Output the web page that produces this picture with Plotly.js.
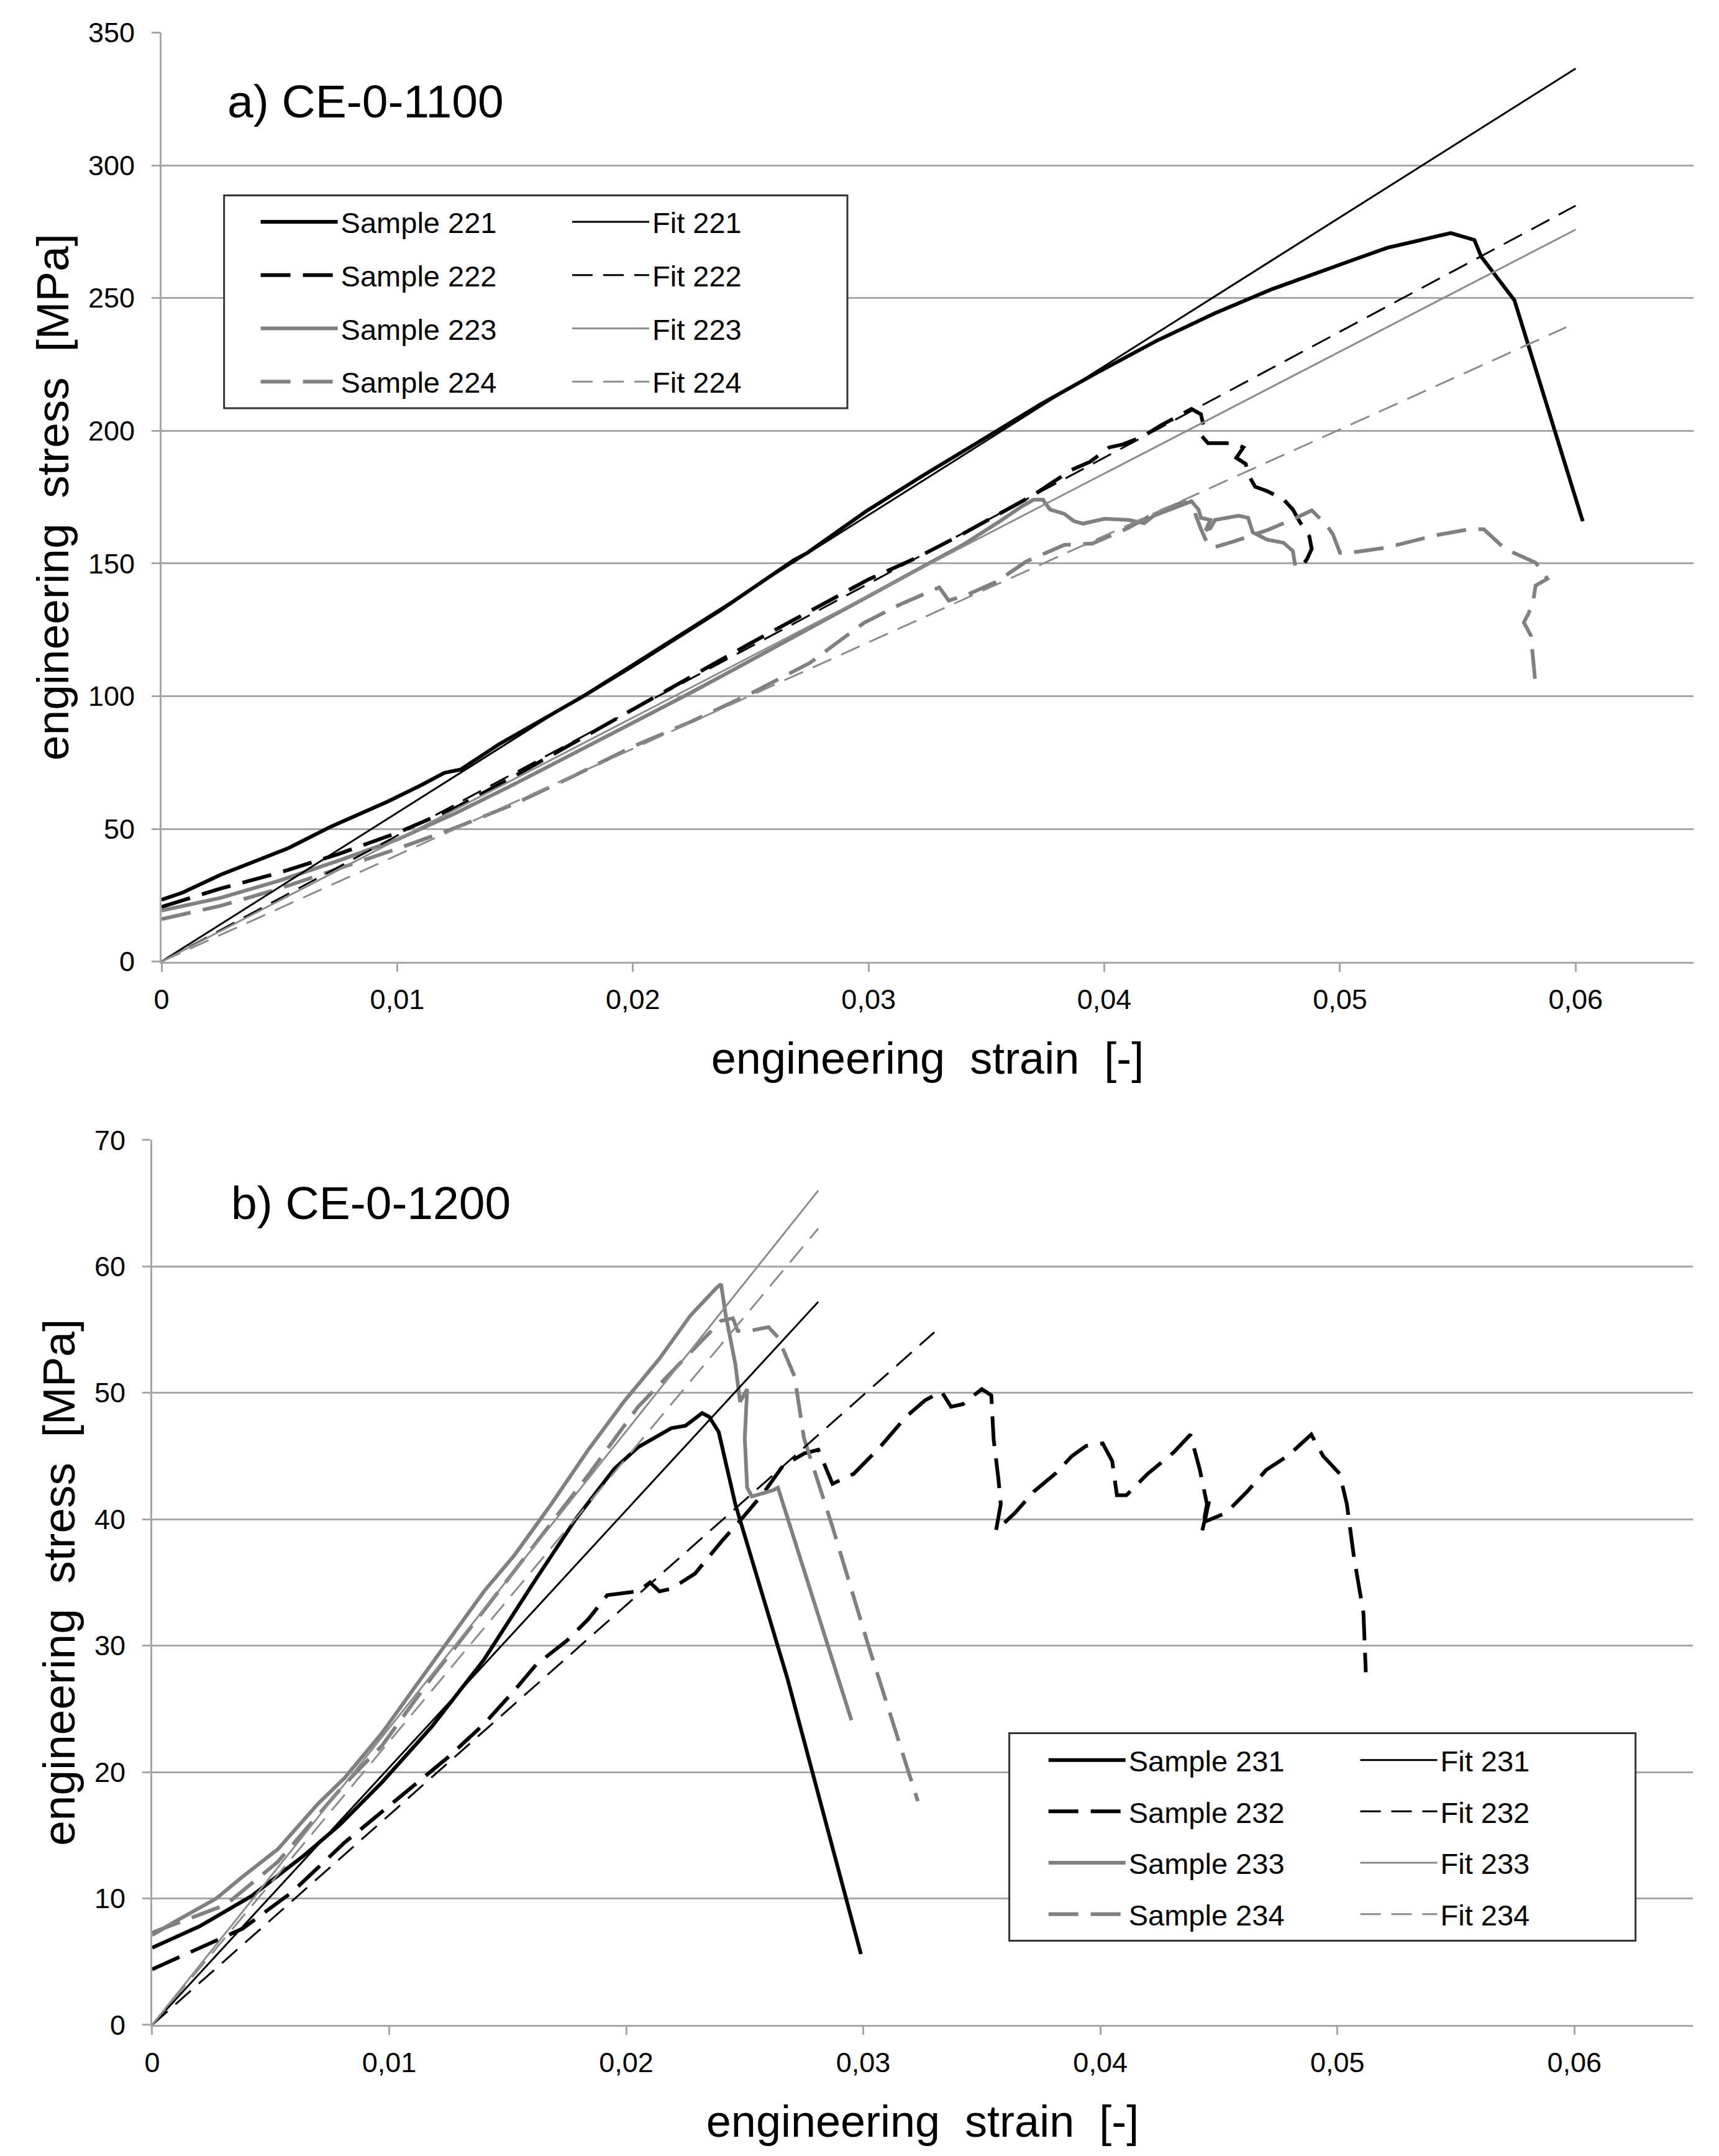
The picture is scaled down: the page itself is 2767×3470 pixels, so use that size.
<!DOCTYPE html>
<html>
<head>
<meta charset="utf-8">
<script src="https://cdn.plot.ly/plotly-3.0.1.min.js"></script>
<style>html,body{margin:0;padding:0;background:#fff;}#chart{width:2767px;height:3470px;}</style>
</head>
<body>
<div id="chart"></div>
<script>
// ---------- Panel a) CE-0-1100 ----------
const s221X = [0,0.0009,0.0025,0.0042,0.0054,0.0072,0.0084,0.0096,0.011,0.012,0.0127,0.0143,0.0167,0.0179,0.02,0.0237,0.0268,0.0274,0.0299,0.0323,0.0348,0.0373,0.0397,0.0422,0.0447,0.0471,0.0506,0.052,0.0547,0.0557,0.056,0.0574,0.0603];
const s221Y = [23.3,26,32.7,38.8,42.8,50.9,55.6,60.3,66.4,71.1,72.4,81.8,93.9,100,111.4,132.3,151.1,154,169.7,183.1,196.5,210,221.9,233.8,244.3,253.3,264.5,268.9,274.5,271.9,265.5,249.2,165.9];

const s222X = [0,0.0025,0.005,0.0075,0.01,0.0125,0.015,0.0175,0.02,0.0225,0.025,0.0275,0.03,0.032,0.0338,0.0354,0.037,0.0378,0.0386,0.0394,0.0402,0.0408,0.0416,0.0424,0.0431,0.0437,0.0441,0.0442,0.0441,0.0444,0.0449,0.0455,0.0459,0.0456,0.046,0.0461,0.0464,0.0469,0.0476,0.048,0.0483,0.0487,0.0488,0.0486,0.0484,0.0486];
const s222Y = [20.6,27.5,33.5,40.5,48.5,58,70,82.5,95,107.5,120,132,144,152,160.2,168,175.8,180.5,185.2,188.3,193.7,194.9,197.7,202,205.5,208.2,206.2,202.3,198.4,195.3,195.3,195.3,193.7,189.8,187.5,183.6,178.9,177.3,174.2,170.3,165.6,160.2,155.5,151.6,149.2,147.3];

const s223X = [0,0.0025,0.005,0.0075,0.01,0.0125,0.015,0.0175,0.02,0.0225,0.025,0.0275,0.03,0.0325,0.034,0.0355,0.0365,0.037,0.0374,0.0375,0.0377,0.0383,0.0387,0.0391,0.04,0.041,0.0417,0.0421,0.0428,0.0434,0.0437,0.044,0.0441,0.0445,0.0443,0.0445,0.0447,0.0457,0.0461,0.0463,0.0465,0.0469,0.0476,0.048,0.0481];
const s223Y = [19.2,24,30.5,38,46,56,67,78.5,90,101.5,113.5,125.5,137.5,149.5,157,165.5,171.5,174,174,172.7,170.3,168.7,166,165,166.8,166.4,165.2,168,170.3,172.3,173.4,170.3,167.2,166.4,162.5,163.3,166.4,168,167.2,161.7,160.9,159,157.8,154.7,149.2];

const s224X = [0,0.0025,0.005,0.0075,0.01,0.0125,0.015,0.0175,0.02,0.0225,0.025,0.0275,0.0298,0.0313,0.033,0.0334,0.0342,0.0354,0.0367,0.0383,0.0395,0.0402,0.041,0.0421,0.0434,0.0438,0.0441,0.0444,0.0447,0.0455,0.0464,0.0469,0.0481,0.0488,0.0494,0.0497,0.05,0.0504,0.052,0.054,0.0555,0.0561,0.057,0.0583,0.0588,0.0583,0.0582,0.058,0.0578,0.0581,0.0583];
const s224Y = [16,21,27.5,35,42.5,50.5,59.5,70,81,90.5,101,112.5,127.6,134.4,141,136,138.3,143,150.8,157,157.5,160.2,163.3,168.7,173.4,170,163,157,156.2,158.3,161,162.5,167,170,164.8,161,154,154,156,160.5,162.9,162.9,155.5,150.3,144.2,141.7,136,131.1,127.8,122.8,104];

const f221X = [0,0.06],   f221Y = [0,336.5];
const f222X = [0,0.06],   f222Y = [0,284.8];
const f223X = [0,0.06],   f223Y = [0,275.8];
const f224X = [0,0.0596], f224Y = [0,239];

// ---------- Panel b) CE-0-1200 ----------
const s231X = [0,0.002,0.0042,0.0064,0.0079,0.0097,0.0118,0.014,0.0162,0.0179,0.0195,0.0205,0.0219,0.0225,0.0232,0.0235,0.0239,0.0241,0.0246,0.0268,0.0299];
const s231Y = [6.1,7.8,10.2,13.4,15.8,19.2,23.6,28.9,35.3,40.1,44,45.7,47.2,47.4,48.4,48.1,46.9,45.3,41.2,27.4,5.6];

const s232X = [0,0.002,0.0038,0.0059,0.0081,0.0103,0.0125,0.014,0.0153,0.0162,0.0175,0.0184,0.0192,0.0205,0.021,0.0214,0.0219,0.0229,0.024,0.0249,0.0258,0.0266,0.0275,0.0281,0.0284,0.0287,0.0296,0.0307,0.0318,0.0326,0.0333,0.0337,0.0342,0.035,0.0354,0.0355,0.0357,0.0358,0.0356,0.0364,0.0372,0.0381,0.0388,0.0394,0.0401,0.0405,0.0407,0.0411,0.042,0.0431,0.0438,0.0442,0.0445,0.0443,0.0446,0.0444,0.0453,0.0462,0.047,0.0479,0.0489,0.0494,0.0501,0.0504,0.0507,0.0511,0.0512];
const s232Y = [4.4,6.1,7.6,10.5,14.4,17.8,21.2,23.8,26.5,28.5,30.4,32.1,34,34.3,35,34.3,34.5,35.7,38.2,40.1,42.1,44.2,45.2,45.5,44.2,42.8,43.6,45.7,48.1,49.4,50.1,48.9,49.1,50.3,49.8,46.3,43.2,41.2,39.1,40.5,42.2,43.6,45,45.8,46,44.6,41.9,41.9,43.6,45.3,46.7,43.9,41.2,39.1,41.5,39.8,40.5,42.2,43.9,45,46.7,45,43.6,41.2,37,32.6,27.9];

const s233X = [0,0.0009,0.0027,0.0038,0.0053,0.007,0.0081,0.0097,0.011,0.0127,0.014,0.0153,0.0168,0.0184,0.0199,0.0214,0.0227,0.0238,0.024,0.0242,0.0246,0.0248,0.0251,0.025,0.0251,0.0253,0.0262,0.0264,0.0295];
const s233Y = [7.1,8.1,10,11.7,13.9,17.5,19.5,23.1,26.5,30.9,34.3,37.2,41.1,45.5,49.3,52.7,56.1,58.3,58.6,56.1,52.3,49.3,50.3,46.4,42.5,41.8,42.3,42.5,24.1];

const s234X = [0,0.0031,0.0053,0.0081,0.0097,0.0118,0.014,0.0162,0.0184,0.0205,0.0227,0.024,0.0245,0.0247,0.0252,0.026,0.0264,0.0271,0.0275,0.0287,0.0302,0.0323];
const s234Y = [7.3,9.5,12.9,19,22.1,27.5,32.8,38.2,43.5,48.9,53.2,55.7,55.9,54.9,54.9,55.2,54.4,51.3,46.4,39.4,30.1,17.7];

const f231X = [0,0.0281], f231Y = [0,57.2];
const f232X = [0,0.033],  f232Y = [0,54.8];
const f233X = [0,0.0281], f233Y = [0,66];
const f234X = [0,0.0281], f234Y = [0,63];

// ---------- ticks ----------
const xTickVals = [0,0.01,0.02,0.03,0.04,0.05,0.06];
const xTickText = ['0','0,01','0,02','0,03','0,04','0,05','0,06'];
const yTopTicks = [0,50,100,150,200,250,300,350];
const yBotTicks = [0,10,20,30,40,50,60,70];

// ---------- styles ----------
const BLACK = '#000000', GRAY = '#808080', FITGRAY = '#8c8c8c', GRID = '#a6a6a6';
const SW = 6, FW = 3;
const SDASH = '48px,20px', FDASH = '33px,17px';
const FONT = '"Liberation Sans", Arial, sans-serif';

function tr(name, x, y, color, width, dash, xa, ya, lg) {
  return {type:'scatter', mode:'lines', name:name, x:x, y:y, xaxis:xa, yaxis:ya,
          legend:lg, legendgroup:name, line:{color:color, width:width, dash:dash},
          hoverinfo:'skip'};
}

const data = [
  tr('Sample 221', s221X, s221Y, BLACK, SW, 'solid', 'x', 'y', 'legend'),
  tr('Sample 222', s222X, s222Y, BLACK, SW, SDASH, 'x', 'y', 'legend'),
  tr('Sample 223', s223X, s223Y, GRAY, SW, 'solid', 'x', 'y', 'legend'),
  tr('Sample 224', s224X, s224Y, GRAY, SW, SDASH, 'x', 'y', 'legend'),
  tr('Fit 221', f221X, f221Y, BLACK, FW, 'solid', 'x', 'y', 'legend2'),
  tr('Fit 222', f222X, f222Y, BLACK, FW, FDASH, 'x', 'y', 'legend2'),
  tr('Fit 223', f223X, f223Y, FITGRAY, FW, 'solid', 'x', 'y', 'legend2'),
  tr('Fit 224', f224X, f224Y, FITGRAY, FW, FDASH, 'x', 'y', 'legend2'),

  tr('Sample 231', s231X, s231Y, BLACK, SW, 'solid', 'x2', 'y2', 'legend3'),
  tr('Sample 232', s232X, s232Y, BLACK, SW, SDASH, 'x2', 'y2', 'legend3'),
  tr('Sample 233', s233X, s233Y, GRAY, SW, 'solid', 'x2', 'y2', 'legend3'),
  tr('Sample 234', s234X, s234Y, GRAY, SW, SDASH, 'x2', 'y2', 'legend3'),
  tr('Fit 231', f231X, f231Y, BLACK, FW, 'solid', 'x2', 'y2', 'legend4'),
  tr('Fit 232', f232X, f232Y, BLACK, FW, FDASH, 'x2', 'y2', 'legend4'),
  tr('Fit 233', f233X, f233Y, FITGRAY, FW, 'solid', 'x2', 'y2', 'legend4'),
  tr('Fit 234', f234X, f234Y, FITGRAY, FW, FDASH, 'x2', 'y2', 'legend4')
];

function xAxis(domain, anchor) {
  return {domain:domain, anchor:anchor, range:[0,0.065], tickmode:'array',
    tickvals:xTickVals, ticktext:xTickText, ticks:'outside', ticklen:13, tickwidth:3,
    tickcolor:GRID, showline:true, linecolor:GRID, linewidth:3, showgrid:false,
    zeroline:false, ticklabelstandoff:6, tickfont:{size:45, color:'#000', family:FONT},
    title:{text:'engineering\u00a0 strain\u00a0 [-]', font:{size:72, color:'#000', family:FONT}, standoff:45}};
}
function yAxis(domain, anchor, range, ticks) {
  return {domain:domain, anchor:anchor, range:range, tickmode:'array', tickvals:ticks,
    ticktext:ticks.map(String), ticks:'outside', ticklen:13, tickwidth:3, tickcolor:GRID,
    showline:true, linecolor:GRID, linewidth:3, showgrid:true, gridcolor:GRID, gridwidth:3,
    zeroline:false, ticklabelstandoff:18, tickfont:{size:45, color:'#000', family:FONT},
    title:{text:'engineering\u00a0 stress\u00a0 [MPa]', font:{size:73, color:'#000', family:FONT}, standoff:8}};
}
function legendCfg(x, y, gap) {
  return {x:x, y:y, xanchor:'left', yanchor:'top', bgcolor:'rgba(0,0,0,0)', borderwidth:0,
    font:{size:47, color:'#000', family:FONT}, itemwidth:124, traceorder:'grouped',
    tracegroupgap:gap, itemclick:false, itemdoubleclick:false};
}

const layout = {
  width:2767, height:3470, margin:{l:0, r:0, t:0, b:0},
  paper_bgcolor:'#fff', plot_bgcolor:'rgba(0,0,0,0)', font:{family:FONT, color:'#000'},
  showlegend:true,
  xaxis: xAxis([0.09397,0.98518], 'y'),
  yaxis: yAxis([0.5540,0.98493], 'x', [0,350.05], yTopTicks),
  xaxis2: xAxis([0.08854,0.98482], 'y2'),
  yaxis2: yAxis([0.06081,0.47130], 'x2', [0,70.01], yBotTicks),
  legend: legendCfg(0.14984, 0.90778, 21.6),
  legend2: legendCfg(0.33105, 0.90778, 21.6),
  legend3: legendCfg(0.60813, 0.19435, 18.6),
  legend4: legendCfg(0.78948, 0.19435, 18.6),
  shapes: [
    {type:'rect', xref:'paper', yref:'paper', x0:0.13036, x1:0.49295, y0:0.81069, y1:0.90939,
     line:{color:'#333', width:3}, fillcolor:'#fff', layer:'above'},
    {type:'rect', xref:'paper', yref:'paper', x0:0.58713, x1:0.95146, y0:0.09983, y1:0.19611,
     line:{color:'#333', width:3}, fillcolor:'#fff', layer:'above'}
  ],
  annotations: [
    {xref:'paper', yref:'paper', x:0.13155, y:0.95303, xanchor:'left', yanchor:'middle',
     text:'a) CE-0-1100', showarrow:false, font:{size:75, color:'#000', family:FONT}},
    {xref:'paper', yref:'paper', x:0.13372, y:0.44207, xanchor:'left', yanchor:'middle',
     text:'b) CE-0-1200', showarrow:false, font:{size:75, color:'#000', family:FONT}}
  ]
};

Plotly.newPlot('chart', data, layout, {staticPlot:true, displayModeBar:false});
</script>
</body>
</html>
